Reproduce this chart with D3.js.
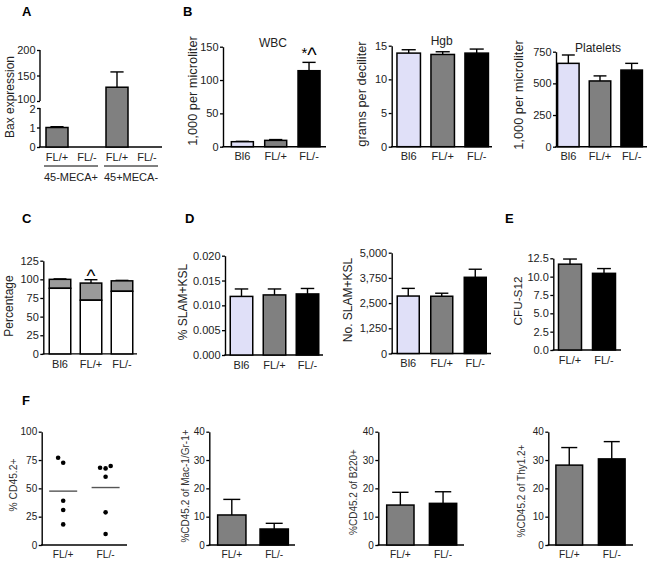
<!DOCTYPE html>
<html><head><meta charset="utf-8">
<script src="https://cdn.jsdelivr.net/npm/d3@7"></script>
<style>body{margin:0;background:#fff} svg{display:block}</style>
</head><body><svg id="c" width="652" height="563"></svg>
<script>
// ---------------- DATA ----------------
const aCats = ["FL/+", "FL/-", "FL/+", "FL/-"];
const aGroupLabels = ["45-MECA+", "45+MECA-"];
const aBax = [1.0, 0, 127, 0];
const aBaxErr = [0.04, 0, 30, 0];
const aTicks = [0, 1, 2, 100, 150, 200];

const bCats = ["Bl6", "FL/+", "FL/-"];
const wbc = [7.5, 9.5, 114];
const wbcErr = [0.5, 1.2, 12.5];
const wbcTicks = [0, 50, 100, 150];
const hgb = [13.9, 13.7, 13.9];
const hgbErr = [0.5, 0.4, 0.6];
const hgbTicks = [0, 5, 10, 15];
const plt = [658, 519, 605];
const pltErr = [66, 40, 53];
const pltTicks = [0, 250, 500, 750];

const cWhite = [88, 72, 84];
const cTotal = [100, 95, 98];
const cErr = [0.6, 4.5, 0.6];
const cTicks = [0, 25, 50, 75, 100, 125];

const slamPct = [0.0118, 0.0121, 0.0123];
const slamPctErr = [0.0015, 0.0012, 0.0011];
const slamPctTicks = [0, 0.005, 0.010, 0.015, 0.020];
const slamNo = [2850, 2840, 3780];
const slamNoErr = [380, 150, 400];
const slamNoTicks = [0, 1250, 2500, 3750, 5000];

const eCats = ["FL/+", "FL/-"];
const cfu = [11.7, 10.45];
const cfuErr = [0.7, 0.65];
const cfuTicks = [0, 2.5, 5.0, 7.5, 10.0, 12.5];

const fPlus = [77, 72.6, 39, 30.9, 18.2];
const fMinus = [68.2, 67.6, 69.7, 60.3, 28.8, 9.7];
const fPlusDodge = [-0.12, 0, 0, 0, 0];
const fMinusDodge = [-0.13, 0, 0.12, 0, 0, 0];
const fTicks = [0, 25, 50, 75, 100];
const mac = [10.6, 5.65];
const macErr = [5.5, 2.0];
const b220 = [14.1, 14.7];
const b220Err = [4.5, 4.1];
const thy = [28.2, 30.4];
const thyErr = [6.2, 6.1];
const fBarTicks = [0, 10, 20, 30, 40];

const colBl6 = "#e0e0f8", colPlus = "#808080", colMinus = "#000000", colCgray = "#9a9a9a";
const triColors = [colBl6, colPlus, colMinus];
const duoColors = [colPlus, colMinus];

// ---------------- DRAW ----------------
const FF = '"Liberation Sans", Arial, Helvetica, sans-serif';
const svg = d3.select("#c");
svg.append("rect").attr("width", 652).attr("height", 563).attr("fill", "#fff");

function txt(g, x, y, s, o = {}) {
  return g.append("text").attr("x", x).attr("y", y).text(s)
    .attr("font-family", FF).attr("font-size", o.fs || 11)
    .attr("fill", o.fill || "#222").attr("text-anchor", o.anchor || "middle")
    .attr("font-weight", o.bold ? "bold" : null);
}
function vlabel(g, cx, cy, s, fs, fill) {
  g.append("text").attr("transform", `translate(${cx},${cy}) rotate(-90)`)
    .attr("text-anchor", "middle").attr("dominant-baseline", "central")
    .attr("font-family", FF).attr("font-size", fs).attr("fill", fill || "#222").text(s);
}

function makePanel(o) {
  const g = svg.append("g");
  const y = o.y || d3.scaleLinear().domain(o.yDomain).range(o.yRange);
  const x = d3.scaleBand().domain(d3.range(o.cats.length)).range([o.bandStart, o.bandEnd]);
  const ax = d3.axisLeft(y).tickValues(o.ticks).tickSize(3).tickPadding(1.5)
    .tickSizeOuter(0).tickFormat(o.fmt || d3.format(","));
  const ag = g.append("g").attr("transform", `translate(${o.axisX},0)`).call(ax);
  ag.selectAll("text").attr("font-size", o.fs).attr("fill", "#222").attr("font-family", FF);
  ag.selectAll("line").attr("stroke", "#000").attr("stroke-width", 1.3);
  ag.select(".domain").attr("stroke", "#000").attr("stroke-width", 1.4);
  if (o.noDomain) ag.select(".domain").remove();
  g.append("line").attr("x1", o.axisX - 0.7).attr("x2", o.xEnd)
    .attr("y1", y(0)).attr("y2", y(0)).attr("stroke", "#000").attr("stroke-width", 1.4);
  g.selectAll(".xl").data(o.cats).join("text")
    .attr("x", (d, i) => x(i) + x.bandwidth() / 2).attr("y", y(0) + o.labOff)
    .attr("text-anchor", "middle").attr("font-family", FF).attr("font-size", o.xfs || o.fs)
    .attr("fill", "#222").text(d => d);
  return { g, x, y, ag };
}

function bars(p, vals, errs, colors, bw, base) {
  const { g, x, y } = p;
  const cx = i => x(i) + x.bandwidth() / 2;
  const idx = d3.range(vals.length).filter(i => vals[i] > 0);
  const cw = bw * 0.6;
  g.selectAll(null).data(idx.filter(i => errs && errs[i] > 0)).join("line")
    .attr("x1", cx).attr("x2", cx).attr("y1", i => y(vals[i])).attr("y2", i => y(vals[i] + errs[i]))
    .attr("stroke", "#000").attr("stroke-width", 1.4);
  g.selectAll(null).data(idx.filter(i => errs && errs[i] > 0)).join("line")
    .attr("x1", i => cx(i) - cw / 2).attr("x2", i => cx(i) + cw / 2)
    .attr("y1", i => y(vals[i] + errs[i])).attr("y2", i => y(vals[i] + errs[i]))
    .attr("stroke", "#000").attr("stroke-width", 1.4);
  g.selectAll(null).data(idx).join("rect")
    .attr("x", i => cx(i) - bw / 2).attr("width", bw)
    .attr("y", i => y(vals[i])).attr("height", i => y(base ? base[i] : 0) - y(vals[i]))
    .attr("fill", i => colors[i]).attr("stroke", "#000").attr("stroke-width", 1.5);
}

function caretMark(g, x, y, s, fsStar, fsCaret) {
  const t = g.append("text").attr("x", x).attr("y", y).attr("text-anchor", "middle")
    .attr("font-family", FF).attr("fill", "#000");
  if (s.length > 1) t.append("tspan").attr("font-size", fsStar).attr("dy", -1).text("*");
  t.append("tspan").attr("font-size", fsCaret).attr("dy", s.length > 1 ? 4 : 0).text("^");
}

// ---- Panel A ----
{
  const yA = d3.scaleLinear().domain([0, 2, 100, 200]).range([147, 108, 101, 50]);
  const p = makePanel({ y: yA, cats: aCats, bandStart: 42, bandEnd: 162, axisX: 40, xEnd: 162,
    ticks: aTicks, fs: 11, labOff: 13.5 , noDomain: true });
  p.ag.selectAll(".tick text").attr("dy", d => d === 100 ? "0.1em" : d === 2 ? "0.45em" : "0.32em");
  p.g.append("line").attr("x1", 40).attr("x2", 40).attr("y1", yA(0)).attr("y2", yA(2)).attr("stroke", "#000").attr("stroke-width", 1.4);
  p.g.append("line").attr("x1", 40).attr("x2", 40).attr("y1", yA(100)).attr("y2", yA(200)).attr("stroke", "#000").attr("stroke-width", 1.4);
  bars(p, aBax, aBaxErr, [colPlus, colPlus, colPlus, colPlus], 22);
  aGroupLabels.forEach((s, k) => {
    const xa = p.x(2 * k) + 2, xb = p.x(2 * k + 1) + p.x.bandwidth() - 4;
    p.g.append("line").attr("x1", xa).attr("x2", xb).attr("y1", 166).attr("y2", 166)
      .attr("stroke", "#000").attr("stroke-width", 1);
    txt(p.g, (xa + xb) / 2, 180.5, s, { fs: 11 });
  });
  vlabel(p.g, 10, 97, "Bax expression", 12);
  txt(p.g, 22, 16, "A", { fs: 13, bold: true, anchor: "start", fill: "#000" });
}

// ---- Panel B ----
{
  const p = makePanel({ yDomain: [0, 150], yRange: [146.7, 46.7], cats: bCats, bandStart: 225.7, bandEnd: 325.7,
    axisX: 223, xEnd: 326, ticks: wbcTicks, fs: 11, labOff: 13.5 });
  bars(p, wbc, wbcErr, triColors, 22);
  txt(p.g, 273, 47, "WBC", { fs: 12 });
  caretMark(p.g, 309, 59, "*^", 15, 20);
  vlabel(p.g, 192.5, 91, "1,000 per microliter", 12.8);
  txt(p.g, 183, 16, "B", { fs: 13, bold: true, anchor: "start", fill: "#000" });
}
{
  const p = makePanel({ yDomain: [0, 15], yRange: [146.7, 45.7], cats: bCats, bandStart: 391.7, bandEnd: 493.7,
    axisX: 391.7, xEnd: 492, ticks: hgbTicks, fs: 11, labOff: 13.5 });
  bars(p, hgb, hgbErr, triColors, 23.5);
  txt(p.g, 441.7, 45, "Hgb", { fs: 12 });
  vlabel(p.g, 361.7, 94, "grams per deciliter", 12.8);
}
{
  const p = makePanel({ yDomain: [0, 750], yRange: [146.7, 51.7], cats: bCats, bandStart: 552.5, bandEnd: 647.5,
    axisX: 556, xEnd: 647, ticks: pltTicks, fs: 11, labOff: 13.5 });
  bars(p, plt, pltErr, triColors, 21.5);
  txt(p.g, 598, 51.5, "Platelets", { fs: 12 });
  vlabel(p.g, 518, 95, "1,000 per microliter", 12.8);
}

// ---- Panel C ----
{
  const p = makePanel({ yDomain: [0, 125], yRange: [353.9, 260.7], cats: bCats, bandStart: 44.5, bandEnd: 137.5,
    axisX: 43.3, xEnd: 137, ticks: cTicks, fs: 11, labOff: 13.8 });
  bars(p, cTotal, cErr, [colCgray, colCgray, colCgray], 21.5, cWhite);
  bars(p, cWhite, null, ["#fff", "#fff", "#fff"], 21.5);
  caretMark(p.g, 91, 282, "^", 15, 19);
  vlabel(p.g, 8.5, 306, "Percentage", 12);
  txt(p.g, 22, 223, "C", { fs: 13, bold: true, anchor: "start", fill: "#000" });
}

// ---- Panel D ----
{
  const p = makePanel({ yDomain: [0, 0.02], yRange: [355, 255.7], cats: bCats, bandStart: 225, bandEnd: 324,
    axisX: 225, xEnd: 323, ticks: slamPctTicks, fmt: d3.format(".3f"), fs: 11, labOff: 13.5 });
  bars(p, slamPct, slamPctErr, triColors, 22.5);
  vlabel(p.g, 183, 302, "% SLAM+KSL", 12);
  txt(p.g, 185, 223, "D", { fs: 13, bold: true, anchor: "start", fill: "#000" });
}
{
  const p = makePanel({ yDomain: [0, 5000], yRange: [353.5, 252.7], cats: bCats, bandStart: 391.5, bandEnd: 492,
    axisX: 391.7, xEnd: 491, ticks: slamNoTicks, fs: 11, labOff: 13.8 });
  bars(p, slamNo, slamNoErr, triColors, 22);
  vlabel(p.g, 347.5, 300, "No. SLAM+KSL", 12);
}

// ---- Panel E ----
{
  const p = makePanel({ yDomain: [0, 12.5], yRange: [350, 258.3], cats: eCats, bandStart: 553, bandEnd: 621,
    axisX: 553.3, xEnd: 621, ticks: cfuTicks, fmt: d3.format(".1f"), fs: 11, labOff: 13.5 });
  bars(p, cfu, cfuErr, duoColors, 23);
  vlabel(p.g, 518, 301, "CFU-S12", 11.8);
  txt(p.g, 505, 223, "E", { fs: 13, bold: true, anchor: "start", fill: "#000" });
}

// ---- Panel F ----
{
  const p = makePanel({ yDomain: [0, 100], yRange: [545, 431.7], cats: eCats, bandStart: 42, bandEnd: 126.8,
    axisX: 41.7, xEnd: 127, ticks: fTicks, fs: 10, xfs: 10.2, labOff: 12.5 });
  const bw = p.x.bandwidth();
  [[fPlus, fPlusDodge], [fMinus, fMinusDodge]].forEach(([vals, dodge], k) => {
    const cx = p.x(k) + bw / 2;
    p.g.selectAll(null).data(vals).join("circle")
      .attr("cx", (d, i) => cx + dodge[i] * bw).attr("cy", d => p.y(d)).attr("r", 2.3).attr("fill", "#000");
    const m = d3.mean(vals);
    p.g.append("line").attr("x1", cx - 14).attr("x2", cx + 14).attr("y1", p.y(m)).attr("y2", p.y(m))
      .attr("stroke", "#555").attr("stroke-width", 1.4);
  });
  vlabel(p.g, 13.3, 485, "% CD45.2+", 10.3, "#333");
  txt(p.g, 22, 405, "F", { fs: 13, bold: true, anchor: "start", fill: "#000" });
}
{
  const p = makePanel({ yDomain: [0, 40], yRange: [545, 431.7], cats: eCats, bandStart: 210.6, bandEnd: 295.4,
    axisX: 209.3, xEnd: 295, ticks: fBarTicks, fs: 10, xfs: 10.2, labOff: 12.5 });
  bars(p, mac, macErr, duoColors, 28.3);
  vlabel(p.g, 185, 486, "%CD45.2 of Mac-1/Gr-1+", 10, "#333");
}
{
  const p = makePanel({ yDomain: [0, 40], yRange: [545, 431.7], cats: eCats, bandStart: 379, bandEnd: 464.4,
    axisX: 378.3, xEnd: 464, ticks: fBarTicks, fs: 10, xfs: 10.2, labOff: 12.5 });
  bars(p, b220, b220Err, duoColors, 27.3);
  vlabel(p.g, 353.3, 492, "%CD45.2 of B220+", 10, "#333");
}
{
  const p = makePanel({ yDomain: [0, 40], yRange: [545, 431.7], cats: eCats, bandStart: 548, bandEnd: 633,
    axisX: 548.3, xEnd: 633, ticks: fBarTicks, fs: 10, xfs: 10.2, labOff: 12.5 });
  bars(p, thy, thyErr, duoColors, 26.7);
  vlabel(p.g, 521.7, 491, "%CD45.2 of Thy1.2+", 10, "#333");
}
</script></body></html>
